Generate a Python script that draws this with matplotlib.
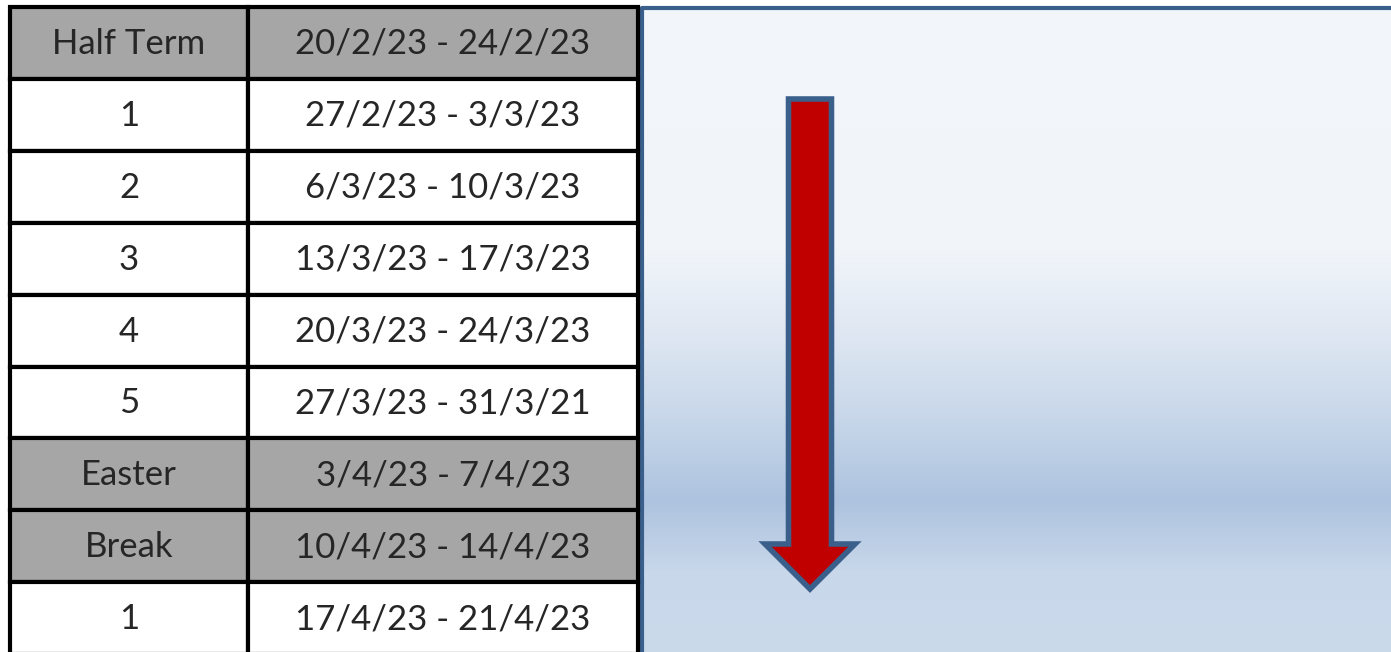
import matplotlib
matplotlib.use('Agg')
import matplotlib.pyplot as plt
from matplotlib.patches import Rectangle, FancyArrow
import numpy as np

weeks = ['Half Term', '1', '2', '3', '4', '5', 'Easter', 'Break', '1']
dates = ['20/2/23 - 24/2/23', '27/2/23 - 3/3/23', '6/3/23 - 10/3/23',
         '13/3/23 - 17/3/23', '20/3/23 - 24/3/23', '27/3/23 - 31/3/21',
         '3/4/23 - 7/4/23', '10/4/23 - 14/4/23', '17/4/23 - 21/4/23']
holiday = [True, False, False, False, False, False, True, True, False]

# panel background stops (y in pixels, colour)
grad_y = [0, 245, 330, 420, 498, 570, 652]
grad_c = ['#f3f7fb', '#f1f5fa', '#dfe7f2', '#c6d6e9', '#adc3df', '#c8d7ea', '#cbdaeb']

W, H = 1391, 652
fig = plt.figure(figsize=(W / 100, H / 100), dpi=100)
ax = fig.add_axes([0, 0, 1, 1])
ax.set_xlim(0, W)
ax.set_ylim(H, 0)
ax.axis('off')

# gradient panel
rgb = np.array([matplotlib.colors.to_rgb(c) for c in grad_c])
yy = np.arange(H)
img = np.stack([np.interp(yy, grad_y, rgb[:, k]) for k in range(3)], axis=1)
img = np.repeat(img[:, None, :], 2, axis=1)
ax.imshow(img, extent=[641, W + 5, H, 8], aspect='auto', zorder=0)
ax.plot([641.5, 641.5, W + 5], [H + 5, 8, 8], color='#3a5f8b', lw=3, zorder=1,
        solid_capstyle='projecting')

# arrow
ax.add_patch(FancyArrow(810, 99, 0, 490, width=43, head_width=90, head_length=45,
                        length_includes_head=True, fc='#c00000', ec='#3a5f8b',
                        lw=4, joinstyle='miter', zorder=3))

# table
top, rh = 7, 71.9
x0, x1, x2 = 10, 248, 638
for i, (wk, dt, hol) in enumerate(zip(weeks, dates, holiday)):
    y = top + i * rh
    fc = '#a6a6a6' if hol else 'white'
    ax.add_patch(Rectangle((x0, y), x1 - x0, rh, fc=fc, ec='black', lw=3, zorder=2))
    ax.add_patch(Rectangle((x1, y), x2 - x1, rh, fc=fc, ec='black', lw=3, zorder=2))
    ax.text((x0 + x1) / 2, y + rh / 2 + 1, wk, ha='center', va='center', fontsize=25,
            family='Lato', color='#262626', zorder=4)
    ax.text((x1 + x2) / 2, y + rh / 2 + 1, dt, ha='center', va='center', fontsize=25,
            family='Lato', color='#262626', zorder=4)

fig.savefig('out.png', dpi=100)
